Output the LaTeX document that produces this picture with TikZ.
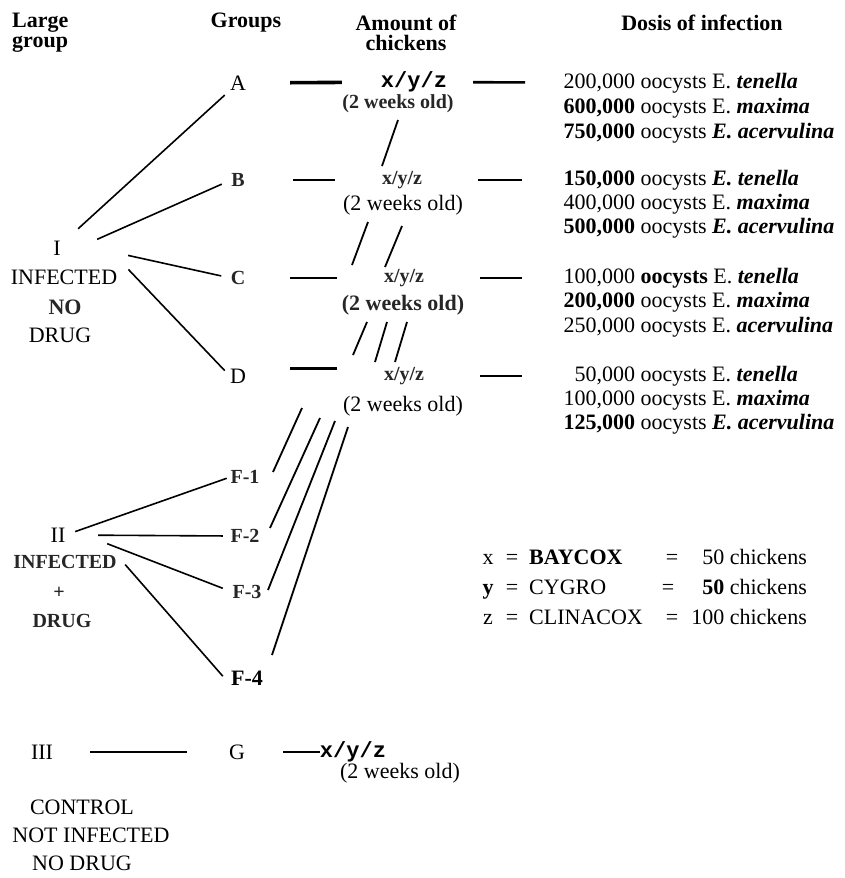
\documentclass[tikz,border=0pt]{standalone}
\usepackage{fontspec}
\setmainfont{Liberation Serif}
\setmonofont{Liberation Mono}
\newcommand{\bigsz}{\fontsize{22}{26}\selectfont}
\newcommand{\midsz}{\fontsize{20}{24}\selectfont}
\newcommand{\amt}[1]{\makebox[72pt][r]{#1}}
\newcommand{\spec}[1]{\textbf{\textit{#1}}}

\begin{document}
\begin{tikzpicture}
  [x=1pt,y=-1pt,every node/.style={inner sep=0pt, font=\bigsz},
   head/.style={font=\bigsz\bfseries, align=center},
   blur/.style={font=\bigsz\bfseries, text=black!85},
   small/.style={font=\midsz\bfseries, text=black!85},
   xyz/.style={font=\bigsz\ttfamily\bfseries},
   dose/.style={anchor=west}]
  \useasboundingbox (0,0) rectangle (844,878);
  % headings
  \node[head, anchor=west, align=left, font=\fontsize{22}{20}\selectfont\bfseries] (hlarge) at (12,33) {Large\\group};
  \node[head] (hgroups) at (246,23) {Groups};
  \node[head, font=\fontsize{22}{20}\selectfont\bfseries] (hamount) at (406,33) {Amount of\\chickens};
  \node[head] (hdosis) at (702,23) {Dosis of infection};
  % large groups
  \node (I) at (57,248) {I};
  \node (infI) at (64,277) {INFECTED};
  \node[blur] (noI) at (65,307) {NO};
  \node (drugI) at (60,335) {DRUG};
  \node (II) at (58,535) {II};
  \node[small] (infII) at (65,562) {INFECTED};
  \node[small] (plusII) at (59,593) {+};
  \node[small] (drugII) at (62,621) {DRUG};
  \node (III) at (42,752) {III};
  \node (ctrl) at (82,807) {CONTROL};
  \node (notinf) at (91,835) {NOT INFECTED};
  \node (nodrug) at (82,863) {NO DRUG};
  % groups
  \node (A) at (238,83) {A};
  \node[small] (B) at (238,180) {B};
  \node[small] (C) at (238,278) {C};
  \node (D) at (238,376) {D};
  \node[small] (F1) at (245,477) {F-1};
  \node[small] (F2) at (245,536) {F-2};
  \node[small] (F3) at (247,592) {F-3};
  \node[font=\bigsz\bfseries] (F4) at (247,678) {F-4};
  \node (G) at (237,752) {G};
  % amount of chickens
  \node[xyz] (xA) at (414,82) {x/y/z};
  \node[small] (wA) at (398,104) {(2 weeks old)};
  \node[small] (xB) at (402,180) {x/y/z};
  \node (wB) at (403,205) {(2 weeks old)};
  \node[small] (xC) at (404,278) {x/y/z};
  \node[blur] (wC) at (403,305) {(2 weeks old)};
  \node[small] (xD) at (404,376) {x/y/z};
  \node (wD) at (403,406) {(2 weeks old)};
  \node[xyz] (xG) at (353,752) {x/y/z};
  \node (wG) at (400,773) {(2 weeks old)};
  % dosis of infection
  \node[dose] (dA) at (563,83) {\amt{200,000} oocysts E. \spec{tenella}};
  \node[dose] (dA2) at (563,108) {\amt{\textbf{600,000}} oocysts E. \spec{maxima}};
  \node[dose] (dA3) at (563,133) {\amt{\textbf{750,000}} oocysts \spec{E. acervulina}};
  \node[dose] (dB) at (563,180) {\amt{\textbf{150,000}} oocysts \spec{E. tenella}};
  \node[dose] (dB2) at (563,204) {\amt{400,000} oocysts E. \spec{maxima}};
  \node[dose] (dB3) at (563,228) {\amt{\textbf{500,000}} oocysts \spec{E. acervulina}};
  \node[dose] (dC) at (563,278) {\amt{100,000} \textbf{oocysts} E. \spec{tenella}};
  \node[dose] (dC2) at (563,302) {\amt{\textbf{200,000}} oocysts E. \spec{maxima}};
  \node[dose] (dC3) at (563,327) {\amt{250,000} oocysts E. \spec{acervulina}};
  \node[dose] (dD) at (563,376) {\amt{50,000} oocysts E. \spec{tenella}};
  \node[dose] (dD2) at (563,400) {\amt{100,000} oocysts E. \spec{maxima}};
  \node[dose] (dD3) at (563,424) {\amt{\textbf{125,000}} oocysts \spec{E. acervulina}};
  % legend
  \foreach \v/\drug/\eq/\n [count=\i] in {x/\textbf{BAYCOX}/672/50, \textbf{y}/CYGRO/668/\textbf{50}, z/CLINACOX/672/100}
  {
    \node[anchor=base] (lv\i) at (488,534+30*\i) {\v};
    \node[anchor=base] (le\i) at (512,534+30*\i) {=};
    \node[anchor=base west] (ld\i) at (529,534+30*\i) {\drug};
    \node[anchor=base] (lq\i) at (\eq,534+30*\i) {=};
    \node[anchor=base east] (ln\i) at (807,534+30*\i) {\n\ chickens};
  }
  % connectors
  \begin{scope}[line width=1.6pt]
  \foreach \from/\to/\s/\e in {I/A/23.4pt/6.9pt, I.south east/B.west/39.7pt/10.2pt,
      I.north east/C.west/68.9pt/9.5pt, II.east/F1.west/10.3pt/3.8pt,
      II.east/F2.west/32.7pt/7.6pt, II.north east/F3.west/44.7pt/10.3pt,
      infII.north east/F4.south west/12.6pt/12.3pt, III/G/37pt/42pt}
     \draw[shorten <=\s, shorten >=\e] (\from) -- (\to);
  \draw[shorten >=7.4pt] ([xshift=11pt]infI.north east) -- (D.west);
  \end{scope}
  \begin{scope}[line width=2.6pt]
  \foreach \from/\to/\s/\e in {B/xB/48pt/47pt, C/xC/45pt/47pt, G/xG/38pt/0pt,
      xA/dA/26pt/38pt, xB/dB/56pt/41pt, xC/dC/56pt/41pt, xD/dD/56pt/41pt}
     \draw[shorten <=\s, shorten >=\e] (\from) -- (\to);
  \draw[line width=3.6pt, shorten <=44pt, shorten >=39pt] (A) -- (xA);
  \draw[line width=3.6pt, shorten <=44pt, shorten >=47pt] (D.north east) -- (D.north east -| xD.west);
  \end{scope}
  % ditto strokes
  \begin{scope}[line width=1.8pt]
  \foreach \xa/\ya/\xb/\yb in {398/120/382/166, 368/222/352/265, 402/226/385/267,
      367/322/353/355, 387/322/375/362, 407/322/395/362, 302/408/273/472,
      320/418/270/528, 335/421/268/590, 348/427/272/655}
     \draw (\xa,\ya) -- (\xb,\yb);
  \end{scope}
\end{tikzpicture}
\end{document}
